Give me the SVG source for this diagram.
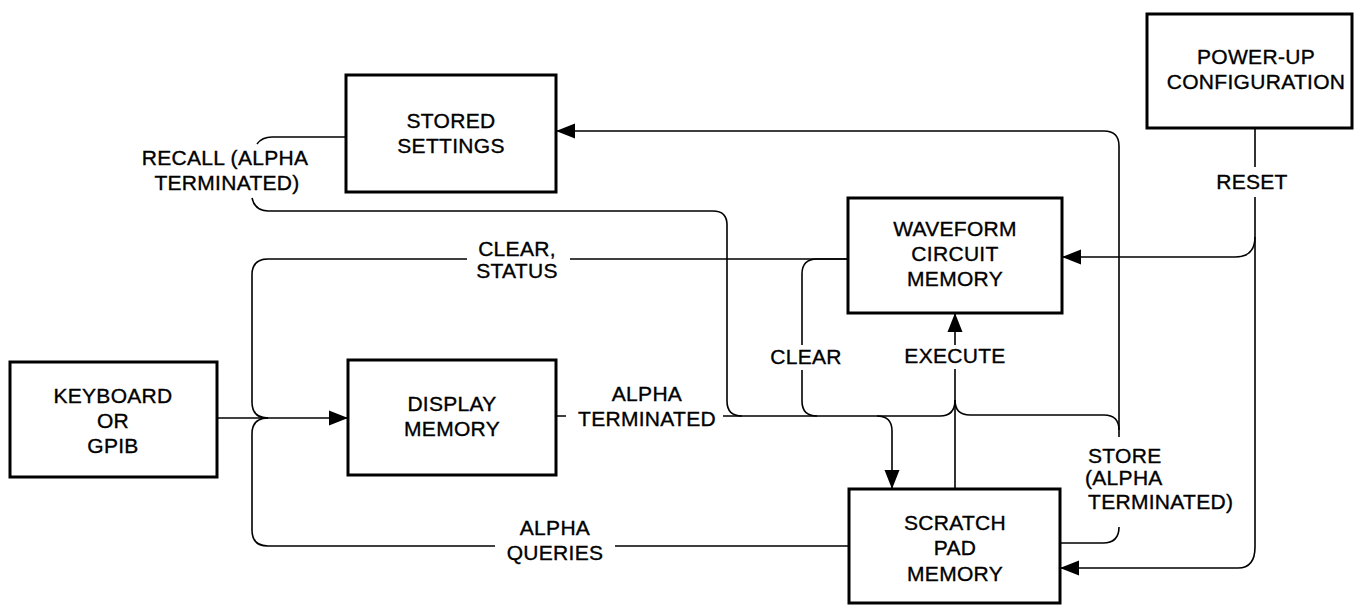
<svg xmlns="http://www.w3.org/2000/svg" width="1354" height="605" viewBox="0 0 1354 605">
<style>
.box{fill:#fff;stroke:#000;stroke-width:3}
.c{fill:none;stroke:#000;stroke-width:1.6}
text{font-family:"Liberation Sans",Arial,sans-serif;font-size:21px;fill:#000;stroke:#000;stroke-width:0.35;letter-spacing:0.3px}
.m{text-anchor:middle}
</style>
<defs>
<marker id="ah" markerUnits="userSpaceOnUse" markerWidth="20" markerHeight="16" refX="19" refY="8" orient="auto">
<path d="M0,0.5 L19,8 L0,15.5 z" fill="#000"/>
</marker>
</defs>
<rect width="1354" height="605" fill="#fff"/>
<g id="connectors">
<path class="c" d="M217,418 H348" marker-end="url(#ah)"/>
<path class="c" d="M848,259 H570 M467,259 H268 Q252,259 252,275 V402 Q252,418 268,418"/>
<path class="c" d="M849,546 H615 M495,546 H268 Q252,546 252,530 V434 Q252,418 268,418"/>
<path class="c" d="M556,416 H566 M723,416 H940 Q955,416 955,400"/>
<path class="c" d="M877,416 Q892,416 892,431 V489" marker-end="url(#ah)"/>
<path class="c" d="M955,489 V369 M955,345 V313" marker-end="url(#ah)"/>
<path class="c" d="M848,259 H817 Q802,259 802,274 V345 M802,370 V401 Q802,416 817,416"/>
<path class="c" d="M346,137 H272 Q262,137 257,144 M252,198 Q255,211 268,211 H713 Q727,211 727,225 V401 Q727,416 742,416"/>
<path class="c" d="M1060,543 H1103 Q1119,543 1119,527"/>
<path class="c" d="M1119,437 V146 Q1119,131 1104,131 H556" marker-end="url(#ah)"/>
<path class="c" d="M1119,430 Q1119,415 1104,415 H970 Q955,415 955,400"/>
<path class="c" d="M1255,128 V167 M1255,197 V547 Q1255,568 1238,568 H1060" marker-end="url(#ah)"/>
<path class="c" d="M1255,237 Q1255,257 1235,257 H1062" marker-end="url(#ah)"/>
</g>
<g id="labels">
<text class="m" x="225" y="165">RECALL (ALPHA</text>
<text class="m" x="227" y="190">TERMINATED)</text>
<text class="m" x="517" y="256">CLEAR,</text>
<text class="m" x="517" y="278">STATUS</text>
<text class="m" x="647" y="401">ALPHA</text>
<text class="m" x="647" y="426">TERMINATED</text>
<text class="m" x="555" y="535">ALPHA</text>
<text class="m" x="555" y="560">QUERIES</text>
<text class="m" x="806" y="364">CLEAR</text>
<text class="m" x="955" y="363">EXECUTE</text>
<text x="1088" y="463">STORE</text>
<text x="1085" y="485">(ALPHA</text>
<text x="1088" y="509">TERMINATED)</text>
<text class="m" x="1252" y="189">RESET</text>
</g>
<g id="stored-settings">
<rect class="box" x="346" y="75" width="210" height="117"/>
<text class="m" x="451" y="128">STORED</text>
<text class="m" x="451" y="153">SETTINGS</text>
</g>
<g id="power-up">
<rect class="box" x="1147" y="14" width="205" height="114"/>
<text class="m" x="1256" y="64">POWER-UP</text>
<text class="m" x="1256" y="89">CONFIGURATION</text>
</g>
<g id="waveform">
<rect class="box" x="848" y="198" width="214" height="115"/>
<text class="m" x="955" y="236">WAVEFORM</text>
<text class="m" x="955" y="261">CIRCUIT</text>
<text class="m" x="955" y="286">MEMORY</text>
</g>
<g id="keyboard">
<rect class="box" x="10" y="362" width="207" height="115"/>
<text class="m" x="113" y="403">KEYBOARD</text>
<text class="m" x="113" y="428">OR</text>
<text class="m" x="113" y="453">GPIB</text>
</g>
<g id="display">
<rect class="box" x="348" y="360" width="208" height="115"/>
<text class="m" x="452" y="411">DISPLAY</text>
<text class="m" x="452" y="436">MEMORY</text>
</g>
<g id="scratch-pad">
<rect class="box" x="849" y="489" width="211" height="114"/>
<text class="m" x="955" y="530">SCRATCH</text>
<text class="m" x="955" y="555">PAD</text>
<text class="m" x="955" y="581">MEMORY</text>
</g>
</svg>
